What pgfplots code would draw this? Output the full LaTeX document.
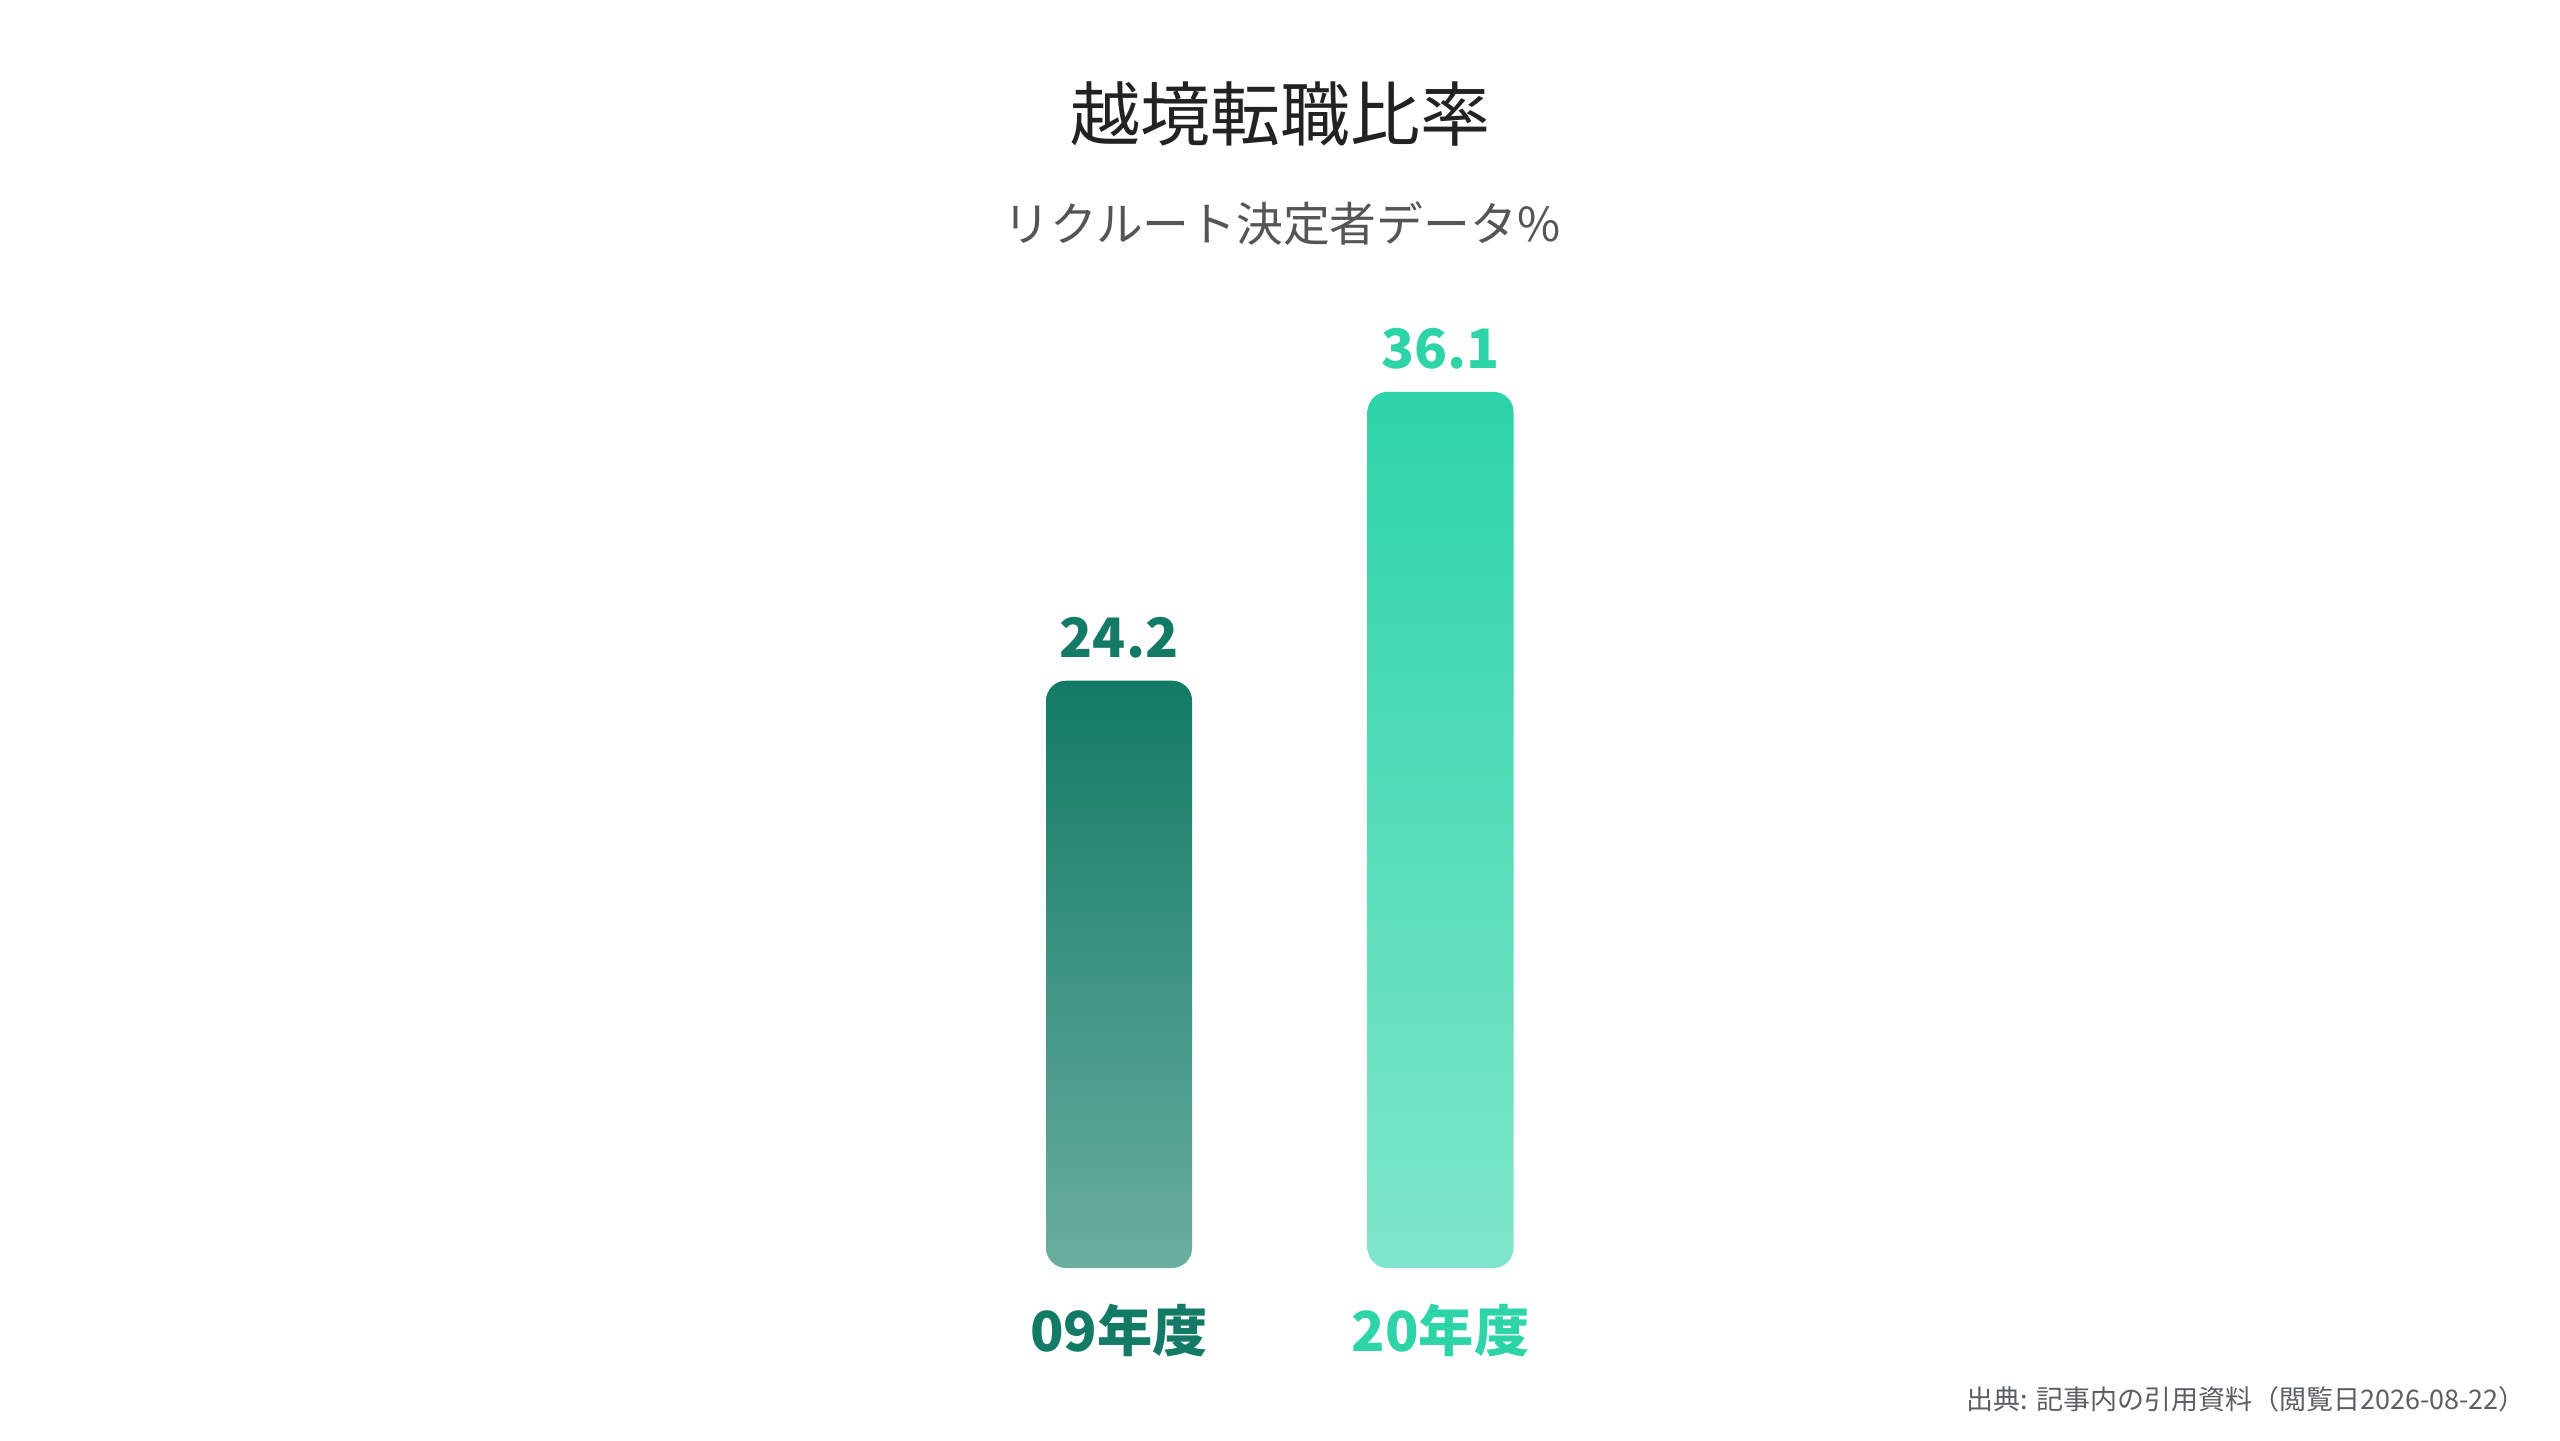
\documentclass[border=0pt]{standalone}
\usepackage{fontspec}
\usepackage{pgfplots}
\pgfplotsset{compat=1.18}
\setmainfont{Noto Sans CJK JP}

\definecolor{darkteal}{HTML}{127A65}
\definecolor{darktealb}{HTML}{6AAE9F}
\definecolor{mint}{HTML}{2DD4A7}
\definecolor{mintb}{HTML}{80E6CB}
\definecolor{titlegray}{HTML}{222222}
\definecolor{subgray}{HTML}{555555}
\definecolor{srcgray}{HTML}{5A5F66}

\begin{document}
\begin{tikzpicture}
  % canvas: 2560x1440 px at 0.25pt per px
  \path[use as bounding box, fill=white] (0,0) rectangle (640pt,360pt);

  \node[text=titlegray, font=\fontsize{17.5}{20}\selectfont] at (320pt,331.5pt) {越境転職比率};
  \node[text=subgray, font=\fontsize{11.7}{14}\selectfont] at (320.5pt,304pt) {リクルート決定者データ\%};
  \node[text=srcgray, font=\fontsize{6.75}{8}\selectfont, anchor=east] at (635pt,10.3pt)
    {出典: 記事内の引用資料（閲覧日2026-08-22）};

  \begin{axis}[
      at={(199.4pt,43pt)},
      anchor=south west,
      scale only axis,
      width=241.1pt,
      height=242.7pt,
      xmin=-1, xmax=2,
      ymin=0, ymax=40,
      axis lines=none,
      ybar,
      bar width=36.5pt,
      bar shift=0pt,
      xtick={0,1},
      ytick=\empty,
      clip=false,
      nodes near coords,
      nodes near coords style={font=\fontsize{13.6}{16}\selectfont\bfseries, yshift=2pt},
      /pgf/number format/.cd, fixed, fixed zerofill, precision=1, assume math mode=true,
    ]
    \addplot[draw=none, top color=darkteal, bottom color=darktealb,
      rounded corners=5pt,
      nodes near coords style={text=darkteal}]
      coordinates {(0,24.2)};
    \addplot[draw=none, top color=mint, bottom color=mintb,
      rounded corners=5pt,
      nodes near coords style={text=mint}]
      coordinates {(1,36.1)};
    % category labels
    \node[text=darkteal, font=\fontsize{13.8}{16}\selectfont\bfseries, anchor=north]
      at (axis cs:0,0) [yshift=-5.5pt] {09年度};
    \node[text=mint, font=\fontsize{13.8}{16}\selectfont\bfseries, anchor=north]
      at (axis cs:1,0) [yshift=-5.5pt] {20年度};
  \end{axis}
\end{tikzpicture}
\end{document}
